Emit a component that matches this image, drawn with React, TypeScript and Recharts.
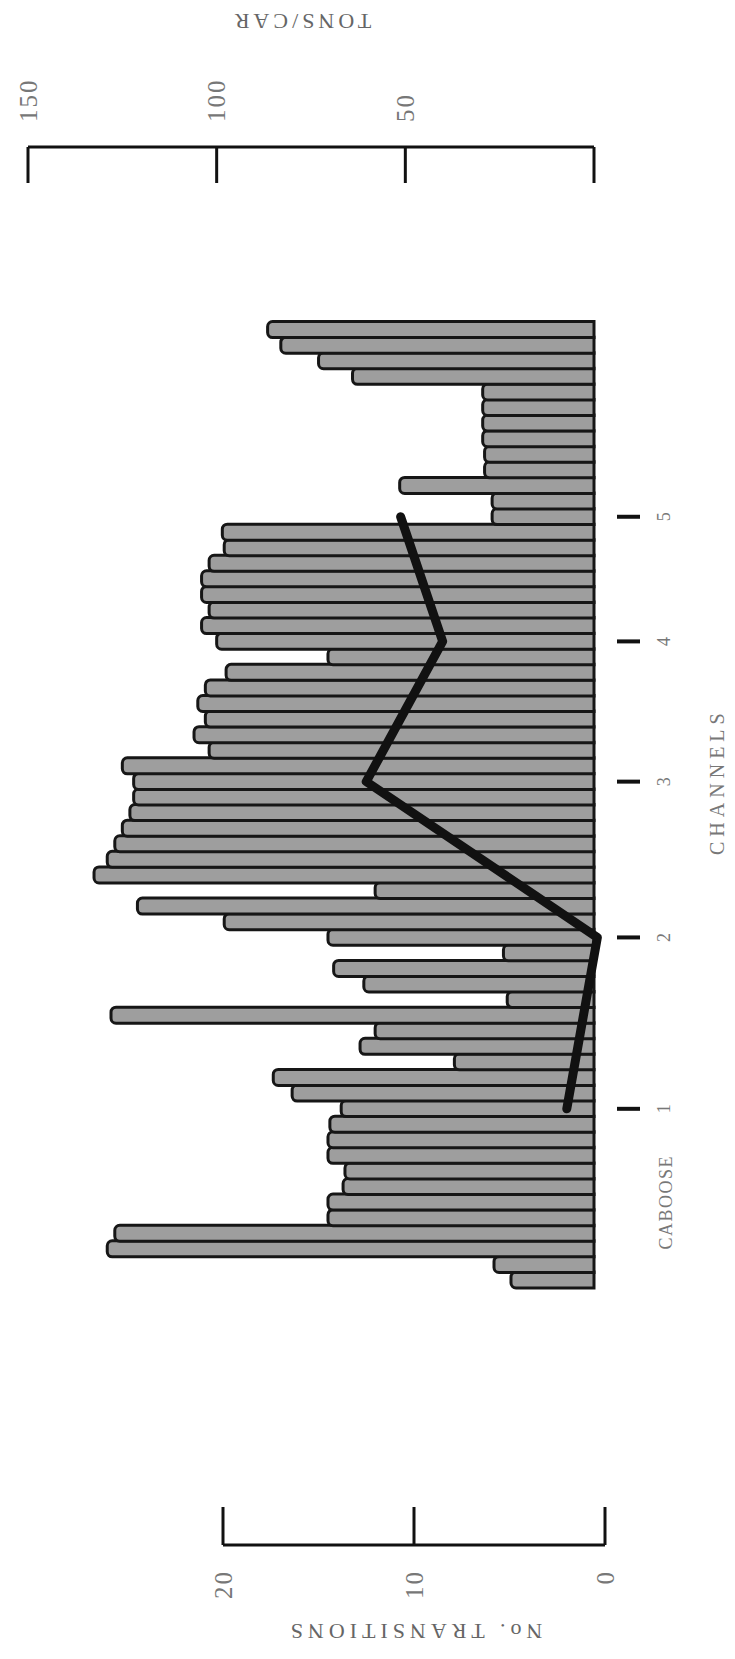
import React from "react";
import { BarChart, Bar, LineChart, Line, XAxis, YAxis, Label } from "recharts";

// tons per car, numbered from the caboose end (car 1) to the engine end
const tonsPerCar = [
  22, 26.5, 129, 127, 70.5, 70.5, 66.5, 66, 70.5, 70.5,
  70, 67, 80, 85, 37, 62, 58, 128, 23, 61,
  69, 24, 70.5, 98, 121, 58, 132.5, 129, 127, 125,
  123, 122, 122, 125, 102, 106, 103, 105, 103, 97.5,
  70.5, 100, 104, 102, 104, 104, 102, 98, 98.5, 27,
  27, 51.5, 29, 29, 29.5, 29.5, 29.5, 29.5, 64, 73,
  83, 86.5,
];
const channelCars = [12, 23, 33, 42, 50];
const transitions = [2, 0.4, 12.5, 8.5, 10.7];
const cabooseCar = 6;
const tonsTicks = [0, 50, 100, 150];
const transitionTicks = [0, 10, 20];

const cars = tonsPerCar.map((tons, i) => {
  const ch = channelCars.indexOf(i + 1);
  return { car: i + 1, tons, trans: ch >= 0 ? transitions[ch] : null };
});

const FONT = "'Liberation Serif', 'DejaVu Serif', serif";
const W = 1659;
const H = 735;

function SideTitle({ viewBox, text, gap, shift = 0, spacing = 4 }: any) {
  const cx = viewBox.x + gap;
  const cy = viewBox.y + viewBox.height / 2 + shift;
  return (
    <text
      x={cx}
      y={cy}
      transform={`rotate(-90 ${cx} ${cy})`}
      textAnchor="middle"
      dominantBaseline="central"
      fontFamily={FONT}
      fontSize={22}
      letterSpacing={spacing}
      fill="#666"
    >
      {text}
    </text>
  );
}

function TonsTick({ x, y, payload }: any) {
  return (
    <g>
      <line x1={x} y1={y} x2={x - 36} y2={y} stroke="#111" strokeWidth={3} />
      {payload.value > 0 && (
        <text x={x + 25} y={y} dominantBaseline="central" fontFamily={FONT} fontSize={25} letterSpacing={2} fill="#777">
          {payload.value}
        </text>
      )}
    </g>
  );
}

function TransTick({ x, y, payload }: any) {
  return (
    <g>
      <line x1={x} y1={y} x2={x + 38} y2={y} stroke="#111" strokeWidth={3} />
      <text x={x - 25} y={y} textAnchor="end" dominantBaseline="central" fontFamily={FONT} fontSize={25} letterSpacing={2} fill="#777">
        {payload.value}
      </text>
    </g>
  );
}

function CarTick({ x, y, payload }: any) {
  const v = payload.value;
  if (v === cabooseCar) {
    return (
      <text x={x} y={y + 72} textAnchor="middle" dominantBaseline="central" fontFamily={FONT} fontSize={18} letterSpacing={1.5} fill="#777">
        CABOOSE
      </text>
    );
  }
  const ch = channelCars.indexOf(v);
  return (
    <g>
      <line x1={x} y1={y + 23} x2={x} y2={y + 46} stroke="#111" strokeWidth={4} />
      <text x={x} y={y + 70} textAnchor="middle" dominantBaseline="central" fontFamily={FONT} fontSize={18} fill="#777">
        {ch + 1}
      </text>
      {ch === 2 && (
        <text x={x} y={y + 123} textAnchor="middle" dominantBaseline="central" fontFamily={FONT} fontSize={20} letterSpacing={5} fill="#777">
          CHANNELS
        </text>
      )}
    </g>
  );
}

export default function App() {
  return (
    <div style={{ position: "absolute", left: 0, top: 0, width: 735, height: 1659, overflow: "hidden", background: "#fff" }}>
      <div
        style={{
          position: "absolute",
          left: 0,
          top: 0,
          width: W,
          height: H,
          transformOrigin: "0 0",
          transform: `translateY(${W}px) rotate(-90deg)`,
        }}
      >
        <div style={{ position: "absolute", left: 0, top: 0 }}>
          <BarChart width={W} height={H} data={cars} margin={{ top: 28, right: 27, bottom: 41, left: 371 }} barCategoryGap={0}>
            <XAxis
              dataKey="car"
              type="category"
              scale="band"
              padding={{ left: 0, right: 175 }}
              height={100}
              axisLine={false}
              tickLine={false}
              tickSize={0}
              tickMargin={0}
              ticks={[cabooseCar, ...channelCars]}
              interval={0}
              tick={<CarTick />}
            />
            <YAxis
              orientation="right"
              width={120}
              domain={[0, 150]}
              ticks={tonsTicks}
              axisLine={{ stroke: "#111", strokeWidth: 3 }}
              tickLine={false}
              tickSize={0}
              tickMargin={0}
              tick={<TonsTick />}
            >
              <Label content={(p: any) => <SideTitle {...p} text="TONS/CAR" gap={126} shift={-10} />} />
            </YAxis>
            <Bar dataKey="tons" fill="#9e9e9e" stroke="#161616" strokeWidth={3} radius={[5, 5, 0, 0]} isAnimationActive={false} />
          </BarChart>
        </div>
        <div style={{ position: "absolute", left: 0, top: 0 }}>
          <LineChart width={W} height={H} data={cars} margin={{ top: 223, right: 322, bottom: 130, left: 14 }}>
            <XAxis dataKey="car" type="category" scale="band" hide padding={{ left: 257, right: 0 }} />
            <YAxis
              width={100}
              domain={[0, 20]}
              ticks={transitionTicks}
              axisLine={{ stroke: "#111", strokeWidth: 3 }}
              tickLine={false}
              tickSize={0}
              tickMargin={0}
              tick={<TransTick />}
            >
              <Label content={(p: any) => <SideTitle {...p} text="No. TRANSITIONS" gap={14} spacing={5} />} />
            </YAxis>
            <Line
              dataKey="trans"
              connectNulls
              stroke="#111"
              strokeWidth={9}
              strokeLinejoin="round"
              strokeLinecap="round"
              dot={false}
              isAnimationActive={false}
            />
          </LineChart>
        </div>
      </div>
    </div>
  );
}
